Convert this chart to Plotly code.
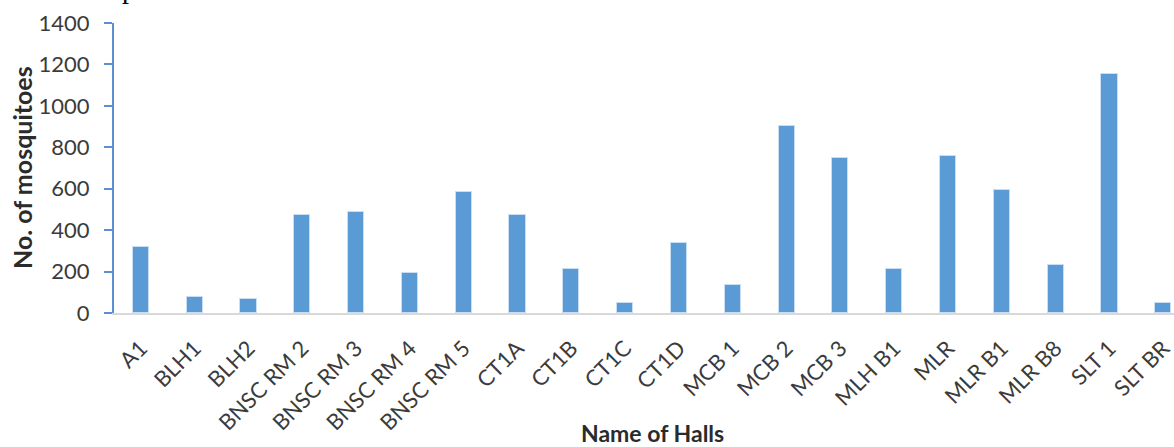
import plotly.graph_objects as go

# Mosquito counts recorded per hall
halls = [
    "A1", "BLH1", "BLH2", "BNSC RM 2", "BNSC RM 3", "BNSC RM 4", "BNSC RM 5",
    "CT1A", "CT1B", "CT1C", "CT1D", "MCB 1", "MCB 2", "MCB 3", "MLH B1",
    "MLR", "MLR B1", "MLR B8", "SLT 1", "SLT BR",
]
mosquitoes = [
    319, 77, 68, 475, 486, 193, 583,
    475, 214, 48, 340, 135, 901, 747, 214,
    758, 592, 233, 1154, 48,
]
y_ticks = [0, 200, 400, 600, 800, 1000, 1200, 1400]

FONT = "Lato"
TEXT = "#3b3b3b"
BAR = "#5b9bd5"
AXIS_BLUE = "#5b8fd2"

fig = go.Figure(
    go.Bar(
        x=halls,
        y=mosquitoes,
        width=0.3,
        marker=dict(color=BAR, line=dict(color="#c9def3", width=1)),
        hoverinfo="x+y",
    )
)

fig.update_layout(
    width=1174,
    height=447,
    margin=dict(l=114, r=0, t=23, b=134),
    paper_bgcolor="white",
    plot_bgcolor="white",
    showlegend=False,
    font=dict(family=FONT, color=TEXT),
    bargap=0,
)

fig.update_xaxes(
    type="category",
    range=[-0.5, 19.2],
    showline=True,
    linecolor="#d9d9d9",
    linewidth=1.5,
    ticks="",
    tickangle=-45,
    ticklabelstandoff=12,
    tickfont=dict(family=FONT, size=22, color=TEXT),
    showgrid=False,
    zeroline=False,
)

fig.update_yaxes(
    range=[0, 1400],
    tickvals=y_ticks,
    showline=True,
    linecolor=AXIS_BLUE,
    linewidth=2,
    ticks="outside",
    ticklen=8,
    tickwidth=2,
    tickcolor=AXIS_BLUE,
    ticklabelstandoff=10,
    tickfont=dict(family=FONT, size=22, color=TEXT),
    showgrid=False,
    zeroline=False,
)

# Axis titles
fig.add_annotation(
    text="<b>No. of mosquitoes</b>",
    xref="paper", yref="paper",
    x=0, y=0.5,
    xanchor="center", yanchor="middle",
    xshift=22 - 114,
    textangle=-90,
    showarrow=False,
    font=dict(family=FONT, size=25, color="#2b2b2b"),
)
fig.add_annotation(
    text="<b>Name of Halls</b>",
    xref="paper", yref="paper",
    x=0, y=0,
    xanchor="center", yanchor="middle",
    xshift=652 - 114,
    yshift=-(433 - 313),
    showarrow=False,
    font=dict(family=FONT, size=23, color="#2b2b2b"),
)

# Tail of the caption line running above the chart
fig.add_annotation(
    text="p",
    xref="paper", yref="paper",
    x=0, y=1,
    xanchor="left", yanchor="bottom",
    xshift=120 - 114,
    yshift=17,
    showarrow=False,
    font=dict(family="Liberation Serif", size=28, color="#000000"),
)

fig.write_html("out.html")
